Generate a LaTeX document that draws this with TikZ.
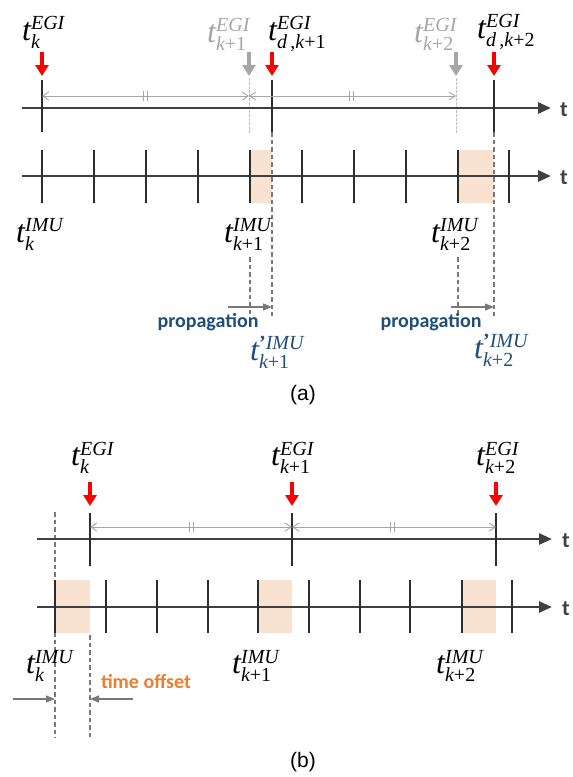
\documentclass[tikz,border=0pt]{standalone}
\usepackage{amsmath}
\usepackage{fontspec}
\setmainfont{Liberation Serif}
\newfontfamily\calibfont{Carlito}
\newfontfamily\arialfont{Liberation Sans}
\usetikzlibrary{arrows.meta, calc}
\definecolor{axisgray}{RGB}{64,64,64}
\definecolor{tickgray}{RGB}{45,45,45}
\definecolor{markgray}{RGB}{166,166,166}
\definecolor{guidegray}{RGB}{190,190,190}
\definecolor{dashgray}{RGB}{120,120,120}
\definecolor{peach}{RGB}{250,226,208}
\definecolor{egired}{RGB}{250,0,0}
\definecolor{propblue}{RGB}{31,78,121}
\definecolor{offsetorange}{RGB}{237,125,49}
\DeclareMathSizes{32}{32}{20}{15}
\newcommand{\tlab}[2]{$\textit{t}^{\textit{#1}}_{#2}$}
\newcommand{\tplab}[2]{$\textit{t}^{\textbf{'}\textit{#1}}_{#2}$}

\begin{document}
\begin{tikzpicture}[x=1pt, y=-1pt,
    axis/.style={line width=2.8pt, draw=axisgray, -{Triangle[length=13pt,width=11pt]}},
    tickmark/.style={line width=1.3pt, draw=tickgray},
    slot/.style={fill=peach},
    egiarrow/.style={line width=4.5pt, draw=egired, -{Triangle[length=11pt,width=13pt]}},
    lostarrow/.style={egiarrow, draw=markgray},
    period/.style={line width=0.9pt, draw=markgray, {Straight Barb[length=6pt,width=8pt]}-{Straight Barb[length=6pt,width=8pt]}},
    guide/.style={line width=0.8pt, draw=guidegray, dash pattern=on 2.5pt off 1.5pt},
    epochline/.style={line width=1.2pt, draw=dashgray, dash pattern=on 4.5pt off 3pt},
    move/.style={line width=1.2pt, draw=dashgray, -{Triangle[length=9pt,width=7pt]}},
    lbl/.style={inner sep=0pt, anchor=base west, font=\fontsize{32}{34}\selectfont},
    axislabel/.style={inner sep=0pt, font=\calibfont\bfseries\fontsize{22}{24}\selectfont, text=axisgray},
    note/.style={inner sep=0pt, font=\calibfont\bfseries\fontsize{20}{22}\selectfont},
    caption/.style={inner sep=0pt, font=\arialfont\fontsize{21}{24}\selectfont}
]
\useasboundingbox (0,0) rectangle (573,777);

%%% (a) propagation of IMU epochs
% shaded slots
\fill[slot] (250,150) rectangle (272,203);
\fill[slot] (458,150) rectangle (494,203);

% guides
\draw[guide] (249,78) -- (249,133);
\draw[guide] (456,78) -- (456,133);
\foreach \x in {272,494} \draw[epochline] (\x,132) -- (\x,316);
\foreach \x in {250,458} \draw[epochline] (\x,257) -- (\x,316);

% axes
\coordinate (aEgiStart) at (22,108);
\coordinate (aEgiEnd) at (551,108);
\coordinate (aImuStart) at (22,176);
\coordinate (aImuEnd) at (551,176);
\draw[axis] (aEgiStart) -- (aEgiEnd);
\draw[axis] (aImuStart) -- (aImuEnd);
\node[axislabel] (aEgiT) at (564,110) {t};
\node[axislabel] (aImuT) at (564,178) {t};

\foreach \x in {42,272,494} \draw[tickmark] (\x,80) -- (\x,132);
\foreach \x in {42,94,146,198,250,302,354,406,458,509} \draw[tickmark] (\x,150) -- (\x,203);

% EGI epochs
\foreach \x in {42,272,494} \draw[egiarrow] (\x,52) -- (\x,76);
\foreach \x in {249,456} \draw[lostarrow] (\x,52) -- (\x,76);

% Nodes
\node[lbl] (egiKa) at (22,40) {\tlab{EGI}{\textit{k}}};
\node[lbl, text=markgray] (egiK1a) at (207,42) {\tlab{EGI}{\textit{k}\textrm{+1}}};
\node[lbl] (egiDK1a) at (268,40) {\tlab{EGI}{\textit{d}\textrm{\,,}\textit{k}\textrm{+1}}};
\node[lbl, text=markgray] (egiK2a) at (414,42) {\tlab{EGI}{\textit{k}\textrm{+2}}};
\node[lbl] (egiDK2a) at (477,38) {\tlab{EGI}{\textit{d}\textrm{\,,}\textit{k}\textrm{+2}}};
\node[lbl] (imuKa) at (16,242) {\tlab{IMU}{\textit{k}}};
\node[lbl] (imuK1a) at (224,242) {\tlab{IMU}{\textit{k}\textrm{+1}}};
\node[lbl] (imuK2a) at (431,242) {\tlab{IMU}{\textit{k}\textrm{+2}}};
\node[lbl, text=propblue] (imuP1a) at (250,360) {\tplab{IMU}{\textit{k}\textrm{+1}}};
\node[lbl, text=propblue] (imuP2a) at (474,358) {\tplab{IMU}{\textit{k}\textrm{+2}}};
\node[note, text=propblue] (prop1) at (208,322) {propagation};
\node[note, text=propblue] (prop2) at (431,322) {propagation};
\node[caption] (capA) at (303,395) {(a)};

% Edges
\coordinate (pa0) at (42,96);
\coordinate (pa1) at (249,96);
\coordinate (pa2) at (456,96);
\draw[period] (pa0) -- (pa1);
\draw[period] (pa1) -- (pa2);
\foreach \x in {143,147,349,353} \draw[line width=0.9pt, markgray] (\x,91) -- (\x,101);

\coordinate (mv1s) at (228,307);
\coordinate (mv1e) at (272,307);
\coordinate (mv2s) at (451,307);
\coordinate (mv2e) at (494,307);
\draw[move] (mv1s) -- (mv1e);
\draw[move] (mv2s) -- (mv2e);

%%% (b) time offset
% shaded slots
\fill[slot] (55,580) rectangle (90,633);
\fill[slot] (258,580) rectangle (292,633);
\fill[slot] (462,580) rectangle (496,633);

\draw[epochline] (55,512) -- (55,738);
\draw[epochline] (90,635) -- (90,738);

% axes
\coordinate (bEgiStart) at (37,539);
\coordinate (bEgiEnd) at (552,539);
\coordinate (bImuStart) at (37,607);
\coordinate (bImuEnd) at (552,607);
\draw[axis] (bEgiStart) -- (bEgiEnd);
\draw[axis] (bImuStart) -- (bImuEnd);
\node[axislabel] (bEgiT) at (566,541) {t};
\node[axislabel] (bImuT) at (566,609) {t};

\foreach \x in {90,292,496} \draw[tickmark] (\x,513) -- (\x,566);
\foreach \x in {55,106,157,208,258,309,360,410,462,512} \draw[tickmark] (\x,580) -- (\x,633);

\foreach \x in {90,292,496} \draw[egiarrow] (\x,482) -- (\x,506);

% Nodes
\node[lbl] (egiKb) at (71,465) {\tlab{EGI}{\textit{k}}};
\node[lbl] (egiK1b) at (271,465) {\tlab{EGI}{\textit{k}\textrm{+1}}};
\node[lbl] (egiK2b) at (476,465) {\tlab{EGI}{\textit{k}\textrm{+2}}};
\node[lbl] (imuKb) at (26,673) {\tlab{IMU}{\textit{k}}};
\node[lbl] (imuK1b) at (232,673) {\tlab{IMU}{\textit{k}\textrm{+1}}};
\node[lbl] (imuK2b) at (436,673) {\tlab{IMU}{\textit{k}\textrm{+2}}};
\node[note, text=offsetorange] (offset) at (146,682) {time offset};
\node[caption] (capB) at (303,762) {(b)};

% Edges
\coordinate (pb0) at (90,527);
\coordinate (pb1) at (292,527);
\coordinate (pb2) at (496,527);
\draw[period] (pb0) -- (pb1);
\draw[period] (pb1) -- (pb2);
\foreach \x in {189,193,390,394} \draw[line width=0.9pt, markgray] (\x,522) -- (\x,532);

\coordinate (off1s) at (13,699);
\coordinate (off1e) at (55,699);
\coordinate (off2s) at (133,699);
\coordinate (off2e) at (90,699);
\draw[move] (off1s) -- (off1e);
\draw[move] (off2s) -- (off2e);

\end{tikzpicture}
\end{document}
